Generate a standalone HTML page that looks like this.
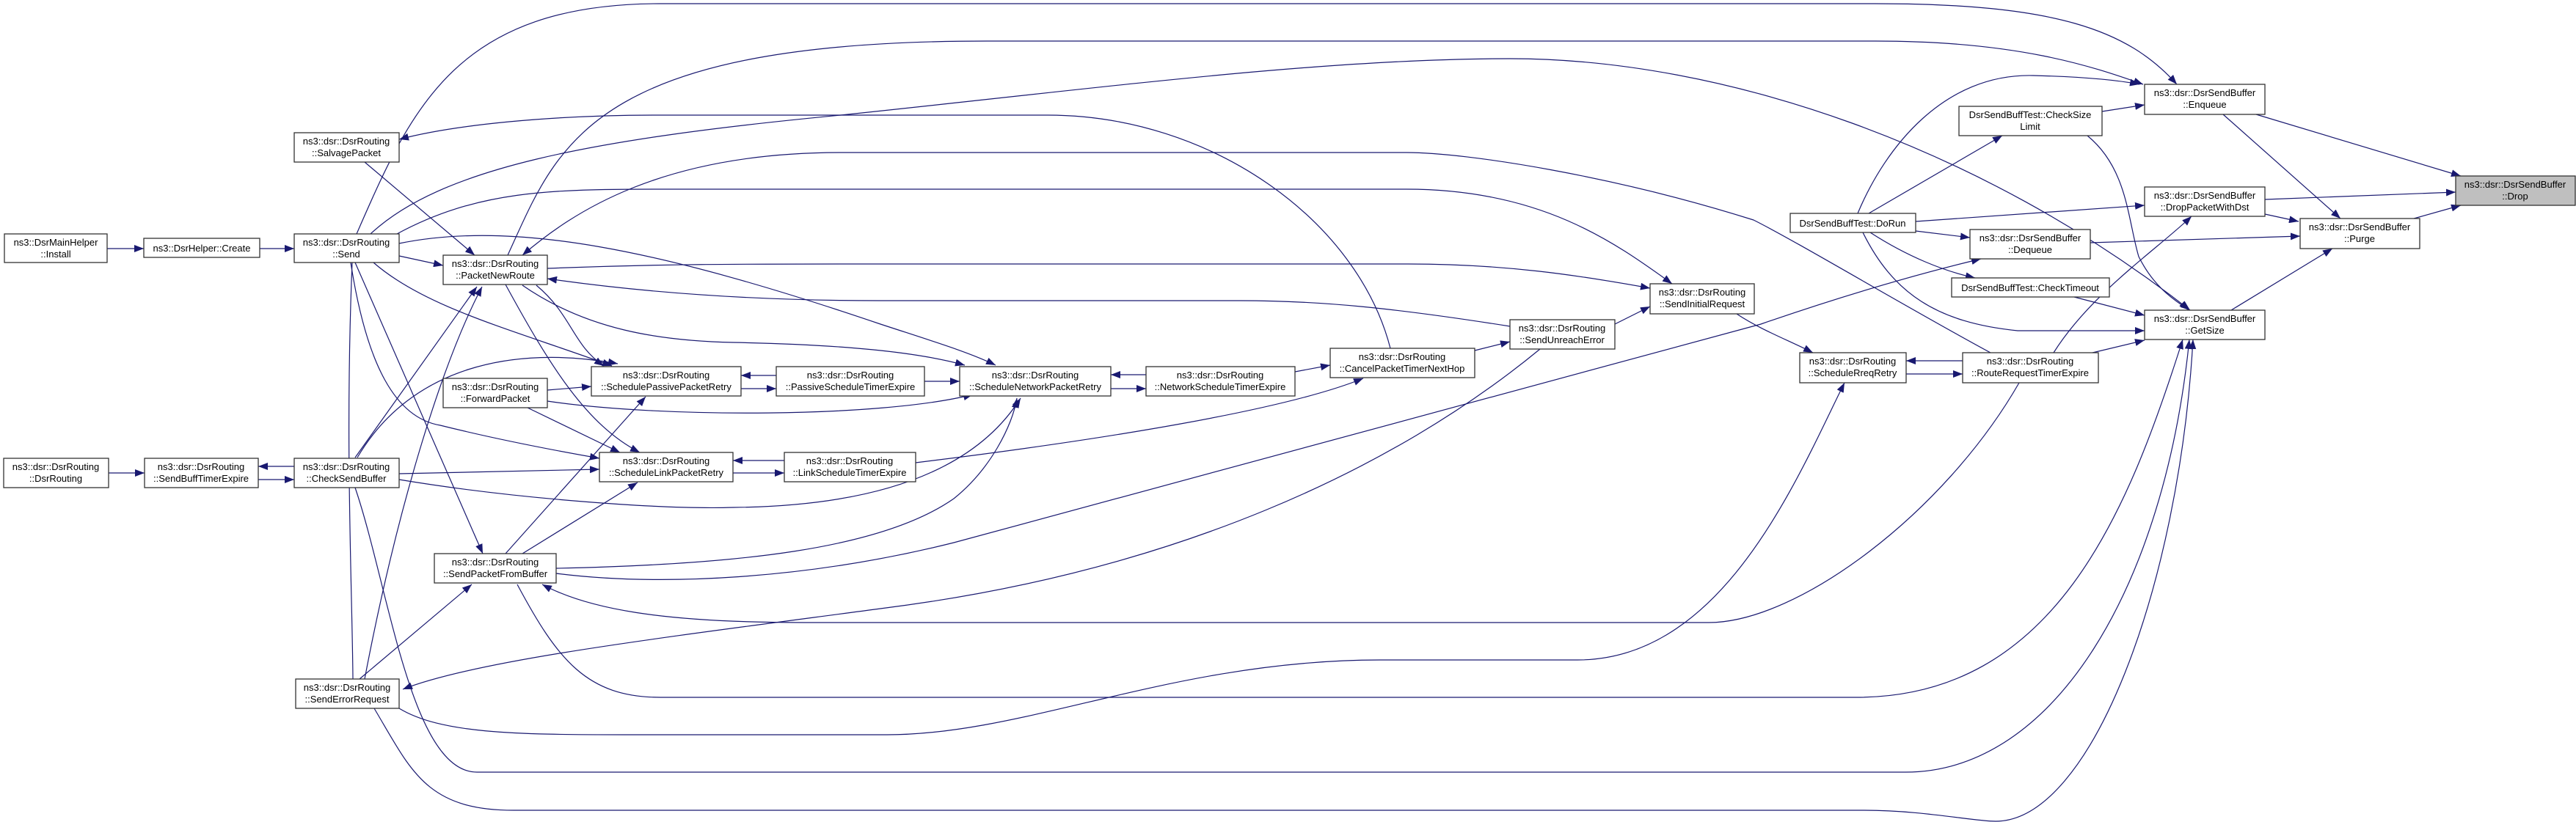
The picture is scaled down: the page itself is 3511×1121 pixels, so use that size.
<!DOCTYPE html>
<html><head><meta charset="utf-8"><style>
html,body{margin:0;padding:0;background:#fff;}
svg{display:block;}
text{font-family:"Liberation Sans",Arial,sans-serif;font-size:13px;fill:#000;}
.e{fill:none;stroke:#191970;stroke-width:1.2;}
.n{fill:#fff;stroke:#333;stroke-width:1.3;}
</style></head><body>
<svg width="3511" height="1121" viewBox="0 0 3511 1121" xmlns="http://www.w3.org/2000/svg">
<defs>
<marker id="a" markerUnits="userSpaceOnUse" markerWidth="14" markerHeight="10" refX="13" refY="5" orient="auto">
<path d="M0,0 L13,5 L0,10 z" fill="#191970"/>
</marker>
</defs>
<g class="e" marker-end="url(#a)">
<path d="M146,339 L196,339"/>
<path d="M354,339 L401,339"/>
<path d="M544,349 L604,362"/>
<path d="M497,221 L647,348"/>
<path d="M509,358 C580,420 700,450 834,499"/>
<path d="M478,358 C500,500 540,570 600,580 C680,600 760,615 817,625"/>
<path d="M484,358 L658,755"/>
<path d="M486,319 C560,150 620,5 900,5 L2556,5 C2800,5 2900,40 2967,115"/>
<path d="M692,348 C760,200 800,56 1345,56 L2556,56 C2750,56 2850,90 2921,115"/>
<path d="M505,319 C600,230 800,190 1146,157 C1500,120 1800,80 2058,80 C2350,80 2700,200 2985,423"/>
<path d="M1895,475 C1850,300 1650,157 1428,157 L897,157 C750,157 620,170 544,190"/>
<path d="M541,319 C650,260 750,258 897,258 L1917,258 C2100,258 2200,330 2279,387"/>
<path d="M2713,481 C2600,420 2450,330 2390,300 C2200,240 2000,208 1917,208 L1146,208 C900,208 780,290 712,348"/>
<path d="M746,366 C900,360 1000,360 1200,360 L1919,360 C2050,360 2150,375 2249,393"/>
<path d="M2058,445 C1900,420 1800,410 1690,410 L1200,410 C1000,410 850,395 746,380"/>
<path d="M544,332 C700,300 900,340 1200,442 C1270,465 1320,480 1357,498"/>
<path d="M712,389 C800,450 900,465 1000,467 C1150,470 1250,480 1315,498"/>
<path d="M746,547 C900,570 1200,570 1326,538"/>
<path d="M544,654 C700,680 900,695 1000,692 C1200,690 1330,640 1391,543"/>
<path d="M758,775 C1000,770 1200,750 1300,680 C1350,640 1380,580 1386,543"/>
<path d="M758,782 C900,800 1100,790 1300,740 L2400,442 C2550,390 2650,365 2700,353"/>
<path d="M2099,476 C1900,640 1600,780 1200,830 C900,870 650,900 549,940"/>
<path d="M1260,520 L1308,520"/>
<path d="M1058,512 L1010,512"/>
<path d="M1010,530 L1058,530"/>
<path d="M1562,511 L1514,511"/>
<path d="M1514,530 L1562,530"/>
<path d="M1765,507 L1813,498"/>
<path d="M2010,478 L2058,466"/>
<path d="M2201,442 L2249,418"/>
<path d="M1069,628 L999,628"/>
<path d="M999,645 L1069,645"/>
<path d="M1248,631 C1500,600 1750,560 1858,516"/>
<path d="M401,636 L352,636"/>
<path d="M352,654 L401,654"/>
<path d="M148,645 L197,645"/>
<path d="M544,646 L817,640"/>
<path d="M689,388 C750,500 800,580 872,617"/>
<path d="M731,389 C780,430 780,470 823,499"/>
<path d="M484,624 L650,391"/>
<path d="M487,624 C560,500 700,470 842,496"/>
<path d="M746,532 L806,527"/>
<path d="M719,556 L845,617"/>
<path d="M689,755 L880,541"/>
<path d="M712,755 L869,658"/>
<path d="M497,926 C540,700 600,500 657,391"/>
<path d="M490,926 L643,797"/>
<path d="M484,665 C530,800 560,1053 650,1053 L2597,1053 C2800,1053 2950,800 2984,463"/>
<path d="M510,966 C560,1050 580,1105 700,1105 L2541,1105 C2620,1105 2690,1120 2720,1120 C2850,1120 2970,800 2989,463"/>
<path d="M705,797 C760,900 800,951 900,951 L2530,951 C2800,951 2900,700 2975,463"/>
<path d="M2752,522 C2650,700 2450,849 2329,849 L1097,849 C900,849 800,830 739,797"/>
<path d="M544,966 C600,1000 700,1002 851,1002 L1209,1002 C1400,1002 1600,900 1881,900 L2150,900 C2350,900 2450,650 2514,522"/>
<path d="M2367,428 C2400,450 2440,465 2471,481"/>
<path d="M2675,492 L2598,492"/>
<path d="M2598,510 L2675,510"/>
<path d="M2799,481 C2850,400 2940,340 2987,295"/>
<path d="M2852,481 L2923,464"/>
<path d="M2827,405 L2923,430"/>
<path d="M2539,317 C2580,400 2640,440 2750,451 L2923,451"/>
<path d="M2549,317 C2600,350 2650,370 2692,379"/>
<path d="M2611,315 L2685,324"/>
<path d="M2611,302 L2923,280"/>
<path d="M2547,291 L2729,185"/>
<path d="M2532,291 C2570,200 2650,100 2771,103 C2850,105 2890,110 2916,115"/>
<path d="M2865,152 L2923,143"/>
<path d="M2845,185 C2900,230 2900,300 2915,350 C2940,400 2975,415 2983,423"/>
<path d="M3030,156 L3190,298"/>
<path d="M3075,156 L3354,240"/>
<path d="M3087,272 L3347,262"/>
<path d="M3087,292 L3133,302"/>
<path d="M2849,331 L3135,322"/>
<path d="M3041,423 L3179,339"/>
<path d="M3290,298 L3354,280"/>
</g>
<path class="e" d="M480,358 C470,600 480,800 481,926"/>

<g>
<rect class="n" x="6" y="319" width="140" height="39"/><text x="76" y="335" text-anchor="middle">ns3::DsrMainHelper</text><text x="76" y="351" text-anchor="middle">::Install</text>
<rect class="n" x="196" y="325" width="158" height="26"/><text x="275" y="343" text-anchor="middle">ns3::DsrHelper::Create</text>
<rect class="n" x="401" y="319" width="143" height="39"/><text x="472" y="335" text-anchor="middle">ns3::dsr::DsrRouting</text><text x="472" y="351" text-anchor="middle">::Send</text>
<rect class="n" x="401" y="181" width="143" height="40"/><text x="472" y="197" text-anchor="middle">ns3::dsr::DsrRouting</text><text x="472" y="213" text-anchor="middle">::SalvagePacket</text>
<rect class="n" x="604" y="348" width="142" height="40"/><text x="675" y="364" text-anchor="middle">ns3::dsr::DsrRouting</text><text x="675" y="380" text-anchor="middle">::PacketNewRoute</text>
<rect class="n" x="806" y="500" width="204" height="40"/><text x="908" y="516" text-anchor="middle">ns3::dsr::DsrRouting</text><text x="908" y="532" text-anchor="middle">::SchedulePassivePacketRetry</text>
<rect class="n" x="1058" y="500" width="202" height="40"/><text x="1159" y="516" text-anchor="middle">ns3::dsr::DsrRouting</text><text x="1159" y="532" text-anchor="middle">::PassiveScheduleTimerExpire</text>
<rect class="n" x="604" y="516" width="142" height="40"/><text x="675" y="532" text-anchor="middle">ns3::dsr::DsrRouting</text><text x="675" y="548" text-anchor="middle">::ForwardPacket</text>
<rect class="n" x="5" y="625" width="143" height="40"/><text x="76" y="641" text-anchor="middle">ns3::dsr::DsrRouting</text><text x="76" y="657" text-anchor="middle">::DsrRouting</text>
<rect class="n" x="197" y="625" width="155" height="40"/><text x="274" y="641" text-anchor="middle">ns3::dsr::DsrRouting</text><text x="274" y="657" text-anchor="middle">::SendBuffTimerExpire</text>
<rect class="n" x="401" y="625" width="143" height="40"/><text x="472" y="641" text-anchor="middle">ns3::dsr::DsrRouting</text><text x="472" y="657" text-anchor="middle">::CheckSendBuffer</text>
<rect class="n" x="817" y="617" width="182" height="40"/><text x="908" y="633" text-anchor="middle">ns3::dsr::DsrRouting</text><text x="908" y="649" text-anchor="middle">::ScheduleLinkPacketRetry</text>
<rect class="n" x="1069" y="617" width="179" height="40"/><text x="1158" y="633" text-anchor="middle">ns3::dsr::DsrRouting</text><text x="1158" y="649" text-anchor="middle">::LinkScheduleTimerExpire</text>
<rect class="n" x="592" y="755" width="166" height="40"/><text x="675" y="771" text-anchor="middle">ns3::dsr::DsrRouting</text><text x="675" y="787" text-anchor="middle">::SendPacketFromBuffer</text>
<rect class="n" x="403" y="926" width="141" height="40"/><text x="473" y="942" text-anchor="middle">ns3::dsr::DsrRouting</text><text x="473" y="958" text-anchor="middle">::SendErrorRequest</text>
<rect class="n" x="1308" y="500" width="206" height="40"/><text x="1411" y="516" text-anchor="middle">ns3::dsr::DsrRouting</text><text x="1411" y="532" text-anchor="middle">::ScheduleNetworkPacketRetry</text>
<rect class="n" x="1562" y="500" width="203" height="40"/><text x="1663" y="516" text-anchor="middle">ns3::dsr::DsrRouting</text><text x="1663" y="532" text-anchor="middle">::NetworkScheduleTimerExpire</text>
<rect class="n" x="1813" y="475" width="197" height="40"/><text x="1911" y="491" text-anchor="middle">ns3::dsr::DsrRouting</text><text x="1911" y="507" text-anchor="middle">::CancelPacketTimerNextHop</text>
<rect class="n" x="2058" y="436" width="143" height="40"/><text x="2129" y="452" text-anchor="middle">ns3::dsr::DsrRouting</text><text x="2129" y="468" text-anchor="middle">::SendUnreachError</text>
<rect class="n" x="2249" y="387" width="142" height="41"/><text x="2320" y="403" text-anchor="middle">ns3::dsr::DsrRouting</text><text x="2320" y="419" text-anchor="middle">::SendInitialRequest</text>
<rect class="n" x="2923" y="115" width="164" height="41"/><text x="3005" y="131" text-anchor="middle">ns3::dsr::DsrSendBuffer</text><text x="3005" y="147" text-anchor="middle">::Enqueue</text>
<rect class="n" x="2670" y="145" width="195" height="40"/><text x="2767" y="161" text-anchor="middle">DsrSendBuffTest::CheckSize</text><text x="2767" y="177" text-anchor="middle">Limit</text>
<rect x="3347" y="240" width="163" height="40" fill="#bfbfbf" stroke="#333" stroke-width="1.3"/><text x="3428" y="256" text-anchor="middle">ns3::dsr::DsrSendBuffer</text><text x="3428" y="272" text-anchor="middle">::Drop</text>
<rect class="n" x="2923" y="255" width="164" height="40"/><text x="3005" y="271" text-anchor="middle">ns3::dsr::DsrSendBuffer</text><text x="3005" y="287" text-anchor="middle">::DropPacketWithDst</text>
<rect class="n" x="2440" y="291" width="171" height="26"/><text x="2525" y="309" text-anchor="middle">DsrSendBuffTest::DoRun</text>
<rect class="n" x="3135" y="298" width="163" height="41"/><text x="3216" y="314" text-anchor="middle">ns3::dsr::DsrSendBuffer</text><text x="3216" y="330" text-anchor="middle">::Purge</text>
<rect class="n" x="2685" y="313" width="164" height="40"/><text x="2767" y="329" text-anchor="middle">ns3::dsr::DsrSendBuffer</text><text x="2767" y="345" text-anchor="middle">::Dequeue</text>
<rect class="n" x="2660" y="379" width="215" height="26"/><text x="2767" y="397" text-anchor="middle">DsrSendBuffTest::CheckTimeout</text>
<rect class="n" x="2923" y="423" width="164" height="40"/><text x="3005" y="439" text-anchor="middle">ns3::dsr::DsrSendBuffer</text><text x="3005" y="455" text-anchor="middle">::GetSize</text>
<rect class="n" x="2453" y="481" width="145" height="41"/><text x="2525" y="497" text-anchor="middle">ns3::dsr::DsrRouting</text><text x="2525" y="513" text-anchor="middle">::ScheduleRreqRetry</text>
<rect class="n" x="2675" y="481" width="185" height="41"/><text x="2767" y="497" text-anchor="middle">ns3::dsr::DsrRouting</text><text x="2767" y="513" text-anchor="middle">::RouteRequestTimerExpire</text>
</g>
</svg>
</body></html>
